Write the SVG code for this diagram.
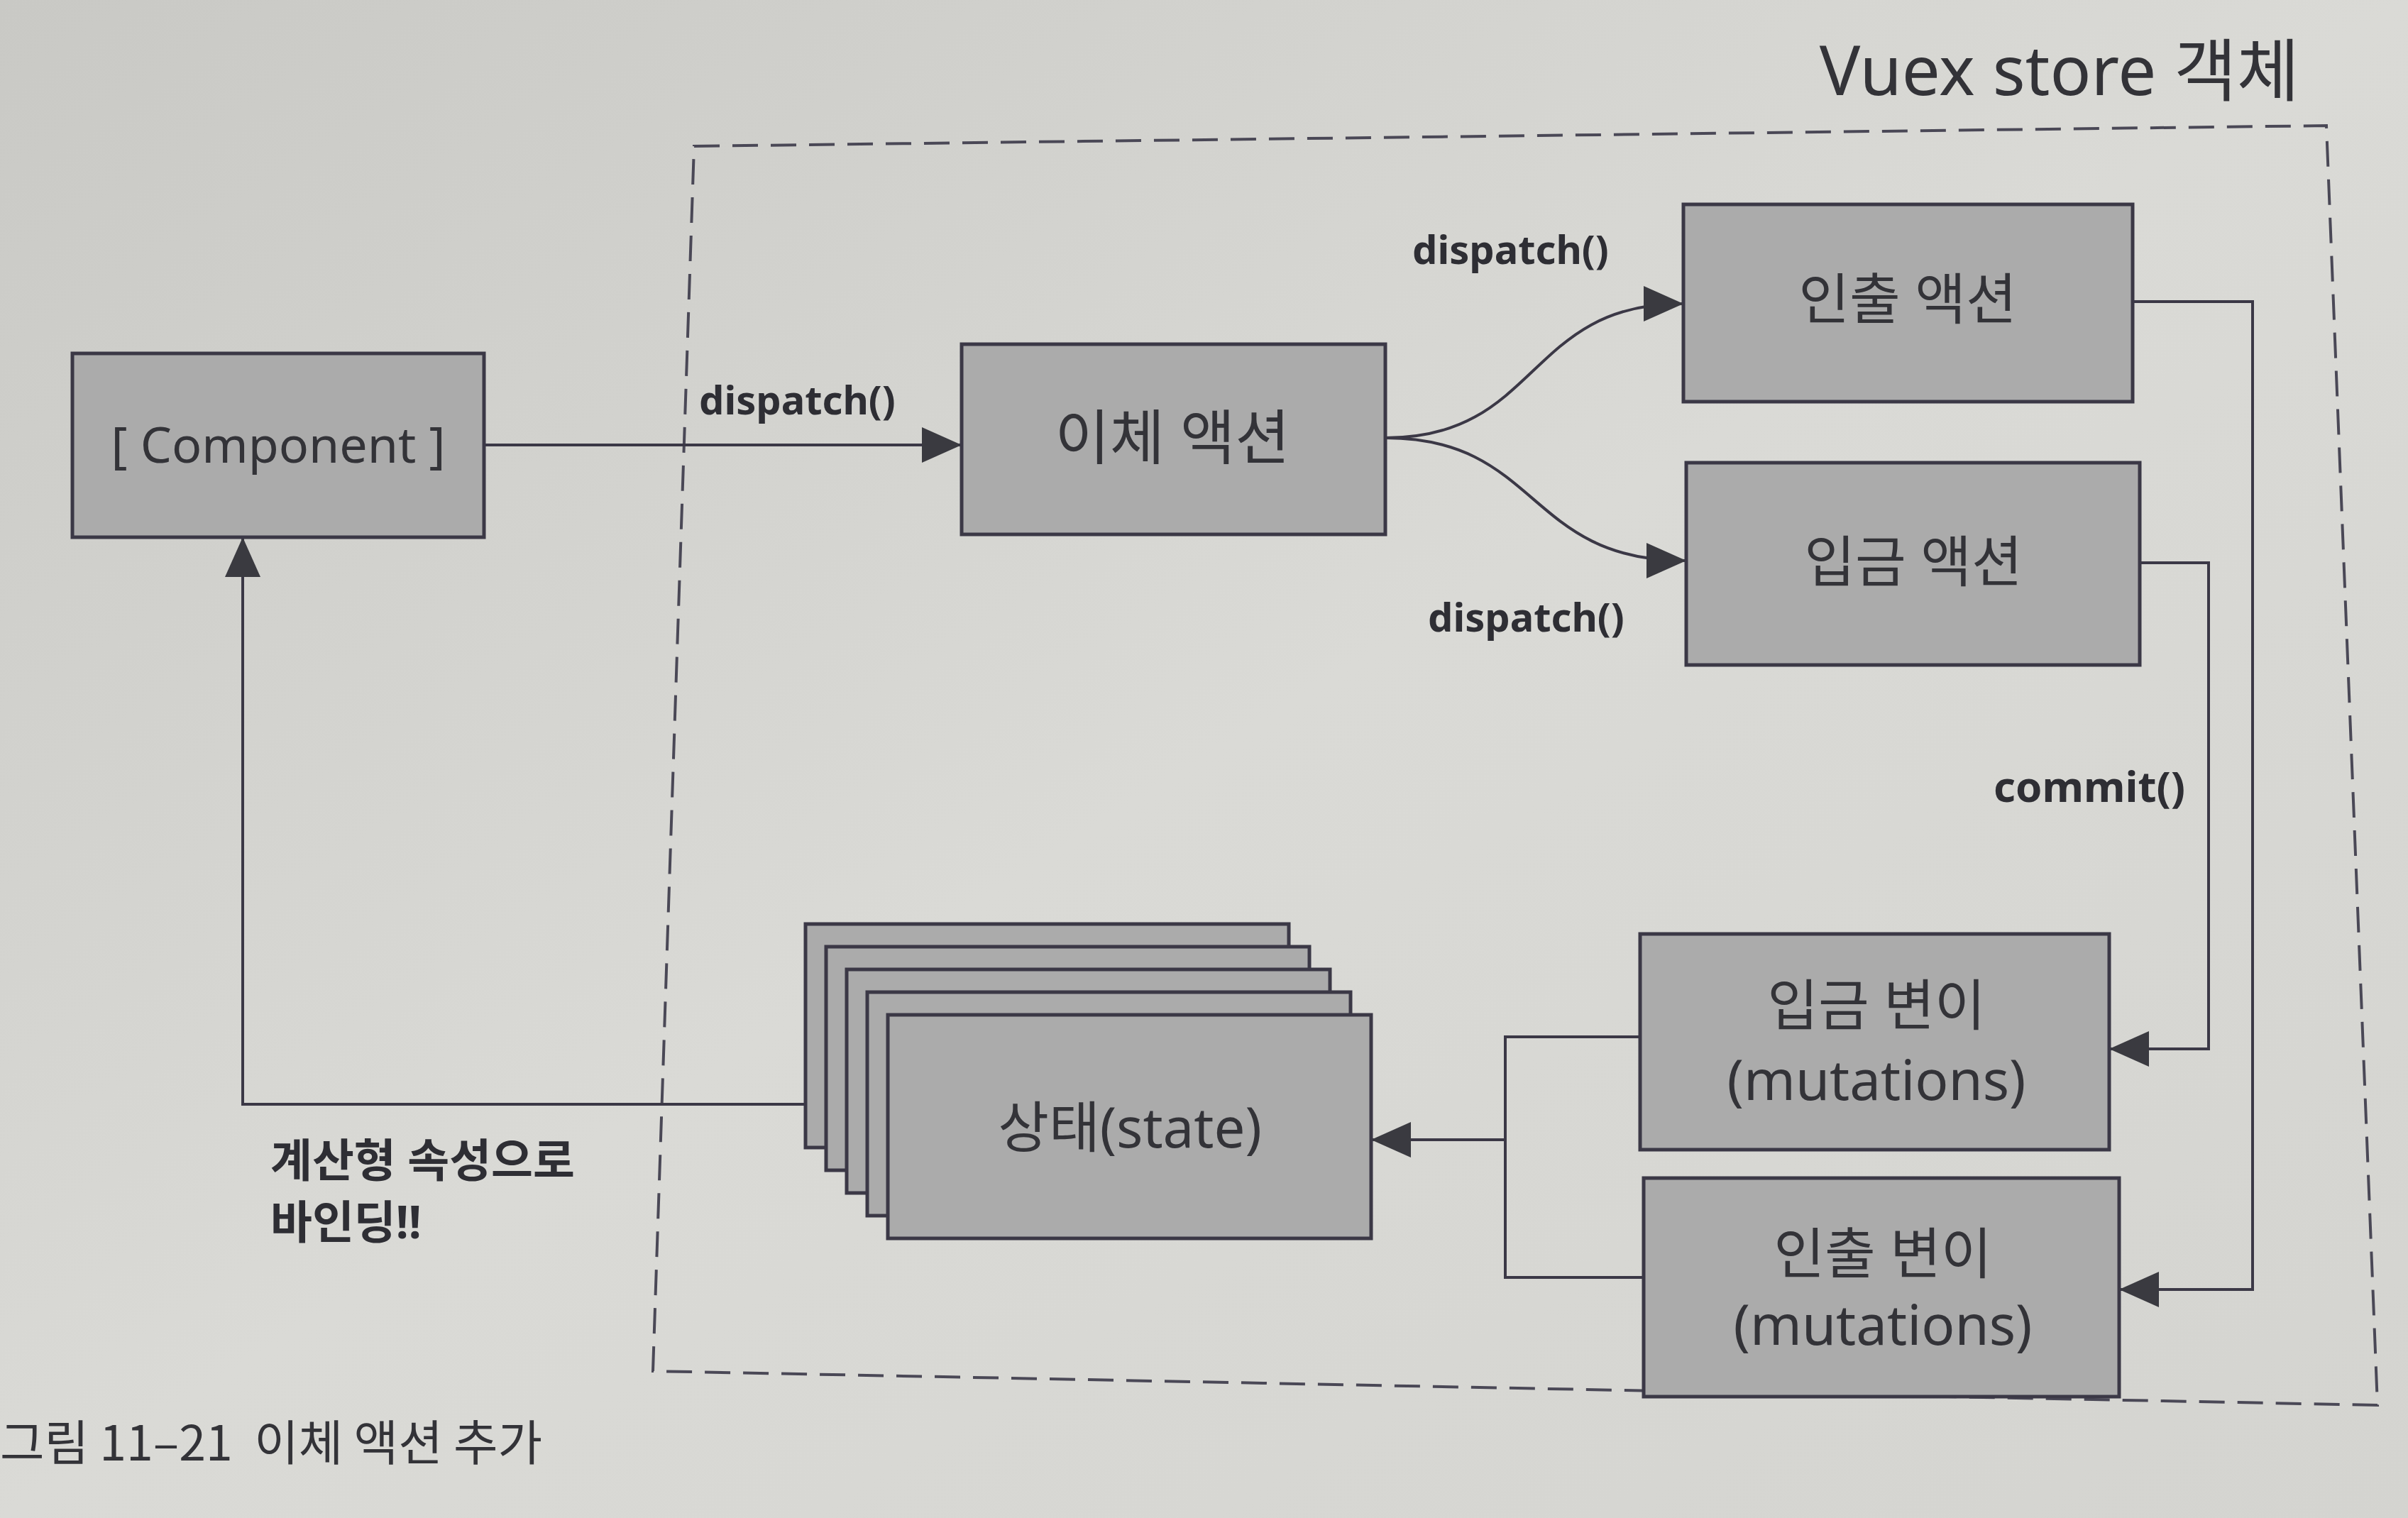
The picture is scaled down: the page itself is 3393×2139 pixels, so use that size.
<svg xmlns="http://www.w3.org/2000/svg" width="3393" height="2139" viewBox="0 0 3393 2139">
<defs>
<linearGradient id="paper" x1="0" y1="0" x2="1" y2="1">
<stop offset="0" stop-color="#c9c9c5"/>
<stop offset="0.5" stop-color="#dadad6"/>
<stop offset="1" stop-color="#d4d4d0"/>
</linearGradient>
<marker id="arr" markerUnits="userSpaceOnUse" markerWidth="56" markerHeight="56" viewBox="0 0 56 56" refX="54" refY="28" orient="auto">
<path d="M0,3 L56,28 L0,53 Z" fill="#3a3a40"/>
</marker>
</defs>
<style>
.box{fill:#ababab;stroke:#3b3846;stroke-width:5}
.lbl{font-family:"Noto Sans","Noto Sans CJK KR",sans-serif;fill:#333338;text-anchor:middle}
.big{font-size:78px}
.op{font-family:"Noto Sans","Noto Sans CJK KR",sans-serif;font-weight:bold;font-size:56px;fill:#2e2e34}
.con{fill:none;stroke:#3b3846;stroke-width:4}
.dash{fill:none;stroke:#4a4856;stroke-width:4;stroke-dasharray:36 18}
</style>
<rect x="0" y="0" width="3393" height="2139" fill="url(#paper)"/>

<g id="store-boundary">
<polygon class="dash" points="978,206 3278,177 3350,1980 920,1932"/>
<text x="3240" y="134" font-family="Noto Sans, Noto Sans CJK KR, sans-serif" font-size="96" fill="#333338" text-anchor="end">Vuex store 객체</text>
</g>

<g id="connectors">
<path class="con" d="M682,627 H1353" marker-end="url(#arr)"/>
<path class="con" d="M1952,617 C2170,617 2150,428 2370,428" marker-end="url(#arr)"/>
<path class="con" d="M1952,617 C2170,617 2150,790 2374,790" marker-end="url(#arr)"/>
<path class="con" d="M3005,425 H3174 V1817 H2988" marker-end="url(#arr)"/>
<path class="con" d="M3015,793 H3112 V1478 H2974" marker-end="url(#arr)"/>
<path class="con" d="M2311,1461 H2121 V1800 H2316"/>
<path class="con" d="M2121,1606 H1934" marker-end="url(#arr)"/>
<path class="con" d="M1251,1556 H342 V759" marker-end="url(#arr)"/>
<text class="op" x="985" y="584">dispatch()</text>
<text class="op" x="1990" y="372">dispatch()</text>
<text class="op" x="2012" y="890">dispatch()</text>
<text class="op" x="2809" y="1130" style="font-size:60px">commit()</text>
<text class="op" x="381" y="1658" style="font-size:64px">계산형 속성으로</text>
<text class="op" x="381" y="1745" style="font-size:64px">바인딩!!</text>
</g>

<g id="component">
<rect class="box" x="102" y="498" width="580" height="259"/>
<text class="lbl" x="392" y="652" font-size="70">[ Component ]</text>
</g>

<g id="transfer-action">
<rect class="box" x="1355" y="485" width="597" height="268"/>
<text class="lbl" x="1652" y="647" style="font-size:84px">이체 액션</text>
</g>

<g id="withdraw-action">
<rect class="box" x="2372" y="288" width="633" height="278"/>
<text class="lbl big" x="2688" y="450">인출 액션</text>
</g>

<g id="deposit-action">
<rect class="box" x="2376" y="652" width="639" height="285"/>
<text class="lbl big" x="2696" y="820">입금 액션</text>
</g>

<g id="deposit-mutation">
<rect class="box" x="2311" y="1316" width="661" height="304"/>
<text class="lbl big" x="2644" y="1445">입금 변이</text>
<text class="lbl big" x="2644" y="1550">(mutations)</text>
</g>

<g id="withdraw-mutation">
<rect class="box" x="2316" y="1660" width="670" height="308"/>
<text class="lbl big" x="2653" y="1795">인출 변이</text>
<text class="lbl big" x="2653" y="1895">(mutations)</text>
</g>

<g id="state">
<rect class="box" x="1135" y="1302" width="681" height="315"/>
<rect class="box" x="1164" y="1334" width="681" height="315"/>
<rect class="box" x="1193" y="1366" width="681" height="315"/>
<rect class="box" x="1222" y="1398" width="681" height="315"/>
<rect class="box" x="1251" y="1430" width="681" height="315"/>
<text class="lbl big" x="1592" y="1617">상태(state)</text>
</g>

<g id="caption">
<text x="0" y="2058" xml:space="preserve" font-family="Noto Sans CJK KR, Noto Sans, sans-serif" font-size="68" fill="#333338">그림 11–21  이체 액션 추가</text>
</g>
</svg>
